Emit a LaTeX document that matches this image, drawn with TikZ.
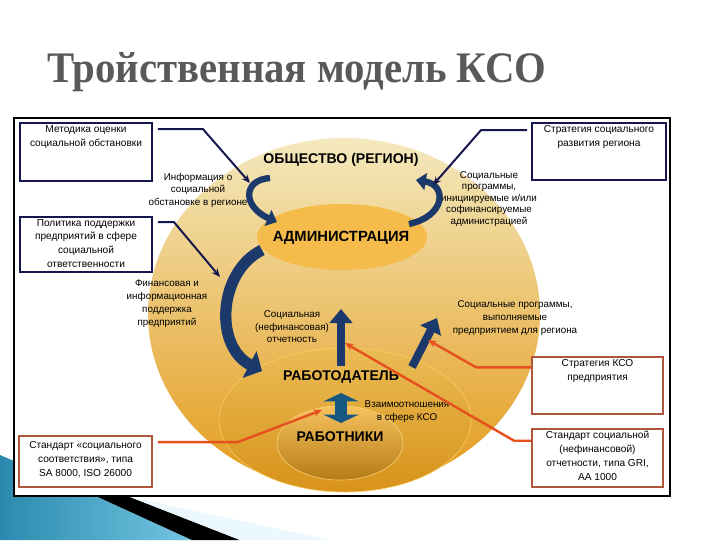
\documentclass[tikz,border=0pt]{standalone}
\usepackage{fontspec}
\setmainfont{Liberation Sans}
\newfontfamily\titlefont{Liberation Serif}
\usetikzlibrary{positioning,arrows.meta,calc}
\definecolor{navy}{HTML}{1B3A6B}
\definecolor{inkline}{HTML}{16164F}
\definecolor{redline}{HTML}{E6501E}
\definecolor{rustbox}{HTML}{B0573B}
\definecolor{cream}{HTML}{F4E9BE}
\definecolor{paleband}{HTML}{EFD27E}
\definecolor{deepgold}{HTML}{E39A1A}
\definecolor{adminfill}{HTML}{F5BC4C}
\definecolor{titlegray}{HTML}{595959}
\definecolor{swoopdark}{HTML}{2A8AAE}
\definecolor{swooplight}{HTML}{74C6E2}
\tikzset{
  infobox/.style={draw=inkline,line width=1.3pt,fill=white,minimum width=3.3cm},
  stdbox/.style={draw=rustbox,line width=1.3pt,fill=white,minimum width=3.3cm},
  boxtext/.style={font=\fontsize{7.2}{10.2}\selectfont,align=center,inner sep=2pt},
  note/.style={font=\fontsize{7}{8.9}\selectfont,align=center,inner sep=0pt},
  level/.style={font=\bfseries\fontsize{10}{12}\selectfont,inner sep=0pt},
  flowarc/.style={draw=navy,line width=4.5pt,-{Triangle[width=12pt,length=7pt]}},
  bigflow/.style={draw=navy,line width=8pt,-{Triangle[width=21pt,length=10pt]}},
  upflow/.style={draw=navy,line width=5.8pt,-{Triangle[width=16pt,length=10pt]}},
  twoway/.style={draw=navy!85!cyan,line width=9pt,
    {Triangle[width=25pt,length=6pt]}-{Triangle[width=25pt,length=6pt]}},
  inkptr/.style={draw=inkline,line width=1.4pt,-{Stealth[length=6pt,width=5pt]}},
  redptr/.style={draw=redline,line width=1.7pt,-{Stealth[length=6pt,width=5pt]}},
}
\begin{document}
\begin{tikzpicture}[x=0.025cm,y=-0.025cm]
  \useasboundingbox (0,0) rectangle (720,540);
  \fill[white] (0,0) rectangle (720,540);
  % swoosh in the corner
  \shade[left color=swoopdark,right color=swooplight]
    (0,455) -- (98,497) -- (192,540) -- (0,540) -- cycle;
  \fill[black] (98,497) -- (130,497) -- (240,540) -- (192,540) -- cycle;
  \fill[cyan!8] (130,497) -- (330,540) -- (240,540) -- cycle;
  \node[anchor=base west,inner sep=0pt,text=titlegray,xscale=0.935,
        font=\titlefont\bfseries\fontsize{31}{36}\selectfont] (title) at (47,82)
        {Тройственная модель КСО};
  \draw[line width=0.8pt,fill=white] (14,118) rectangle (670,496);

  % levels
  \shade[top color=cream,middle color=paleband,bottom color=deepgold]
    (344,314) ellipse [x radius=196,y radius=176];
  \shade[top color=paleband!60!deepgold,bottom color=deepgold!95!black,draw=yellow!40!orange!60]
    (345,420) ellipse [x radius=126,y radius=72];
  \shade[top color=adminfill!90,bottom color=deepgold!80!black,draw=yellow!40!orange!50]
    (340,443) ellipse [x radius=63,y radius=37];
  \fill[adminfill] (342,237) ellipse [x radius=85,y radius=33];

  \node[level] (society) at (341,160) {ОБЩЕСТВО (РЕГИОН)};
  \node[level,font=\bfseries\fontsize{10.5}{12}\selectfont] (admin) at (341,238) {АДМИНИСТРАЦИЯ};
  \node[level] (employer) at (341,377) {РАБОТОДАТЕЛЬ};
  \node[level] (workers) at (340,437) {РАБОТНИКИ};

  \node[note] (infonote) at (198,190) {Информация о\\социальной\\обстановке в регионе};
  \node[note,font=\fontsize{7}{8.2}\selectfont] (progsnote) at (489,199)
    {Социальные\\программы,\\инициируемые и/или\\софинансируемые\\администрацией};
  \node[note,font=\fontsize{7}{9.2}\selectfont] (supportnote) at (167,304)
    {Финансовая и\\информационная\\поддержка\\предприятий};
  \node[note] (reportnote) at (292,327) {Социальная\\(нефинансовая)\\отчетность};
  \node[note,font=\fontsize{7}{9.2}\selectfont] (entprognote) at (515,318)
    {Социальные программы,\\выполняемые\\предприятием для региона};
  \node[note] (relnote) at (407,411.5) {Взаимоотношения\\в сфере КСО};

  % flows between levels
  \coordinate (infoin) at (270,178);
  \coordinate (infoout) at (277,222);
  \coordinate (progin) at (409,224);
  \coordinate (progout) at (416,180);
  \draw[flowarc] (infoin) .. controls (242,180) and (243,207) .. (infoout);
  \draw[flowarc] (progin) .. controls (446,216) and (447,185) .. (progout);
  \draw[bigflow] (262,250) .. controls (218,272) and (214,346) .. (262,371);
  \coordinate (reporttop) at (341,309);
  \coordinate (enprogtop) at (437,318);
  \draw[upflow] (341,366) -- (reporttop);
  \draw[upflow] (412,367) -- (enprogtop);
  \draw[twoway] (341,423) -- (341,393);

  % boxes
  \node[infobox,minimum height=1.45cm] (methodbox) at (86,152) {};
  \node[boxtext,below=0pt of methodbox.north] (methodtxt)
    {Методика оценки\\социальной обстановки};
  \node[infobox,minimum height=1.375cm] (policybox) at (86,244.5) {};
  \node[boxtext,font=\fontsize{7.2}{9.8}\selectfont,below=0pt of policybox.north] (policytxt)
    {Политика поддержки\\предприятий в сфере\\социальной\\ответственности};
  \node[infobox,minimum width=3.35cm,minimum height=1.425cm] (regionbox) at (599,151.5) {};
  \node[boxtext,below=0pt of regionbox.north] (regiontxt)
    {Стратегия социального\\развития региона};
  \node[stdbox,minimum width=3.275cm,minimum height=1.425cm] (csrbox) at (597.5,385.5) {};
  \node[boxtext,below=0pt of csrbox.north] (csrtxt) {Стратегия КСО\\предприятия};
  \node[stdbox,minimum width=3.275cm,minimum height=1.45cm] (gribox) at (597.5,458) {};
  \node[boxtext,font=\fontsize{7.2}{9.8}\selectfont,below=0pt of gribox.north] (gritxt)
    {Стандарт социальной\\(нефинансовой)\\отчетности, типа GRI,\\AA 1000};
  \node[stdbox,minimum width=3.325cm,minimum height=1.275cm] (sabox) at (85.5,461.5) {};
  \node[boxtext,below=2pt of sabox.north] (satxt)
    {Стандарт «социального\\соответствия», типа\\SA 8000, ISO 26000};

  % pointers from the boxes
  \draw[inkptr] ([shift={(5,7)}]methodbox.north east) -- ++(45,0) -- (250,183);
  \draw[inkptr] ([shift={(5,6)}]policybox.north east) -- ++(16,0) -- (220,277);
  \draw[inkptr] ([shift={(-4,8)}]regionbox.north west) -- ++(-46,0) -- (433,185);
  \draw[redptr] ([yshift=-8]csrbox.north west) -- ++(-55,0) -- (428,340);
  \draw[redptr] ([yshift=-9]gribox.north west) -- ++(-17,0) -- (345,343);
  \draw[redptr] ([shift={(5,7)}]sabox.north east) -- ++(80,0) -- (322,410);
\end{tikzpicture}
\end{document}
